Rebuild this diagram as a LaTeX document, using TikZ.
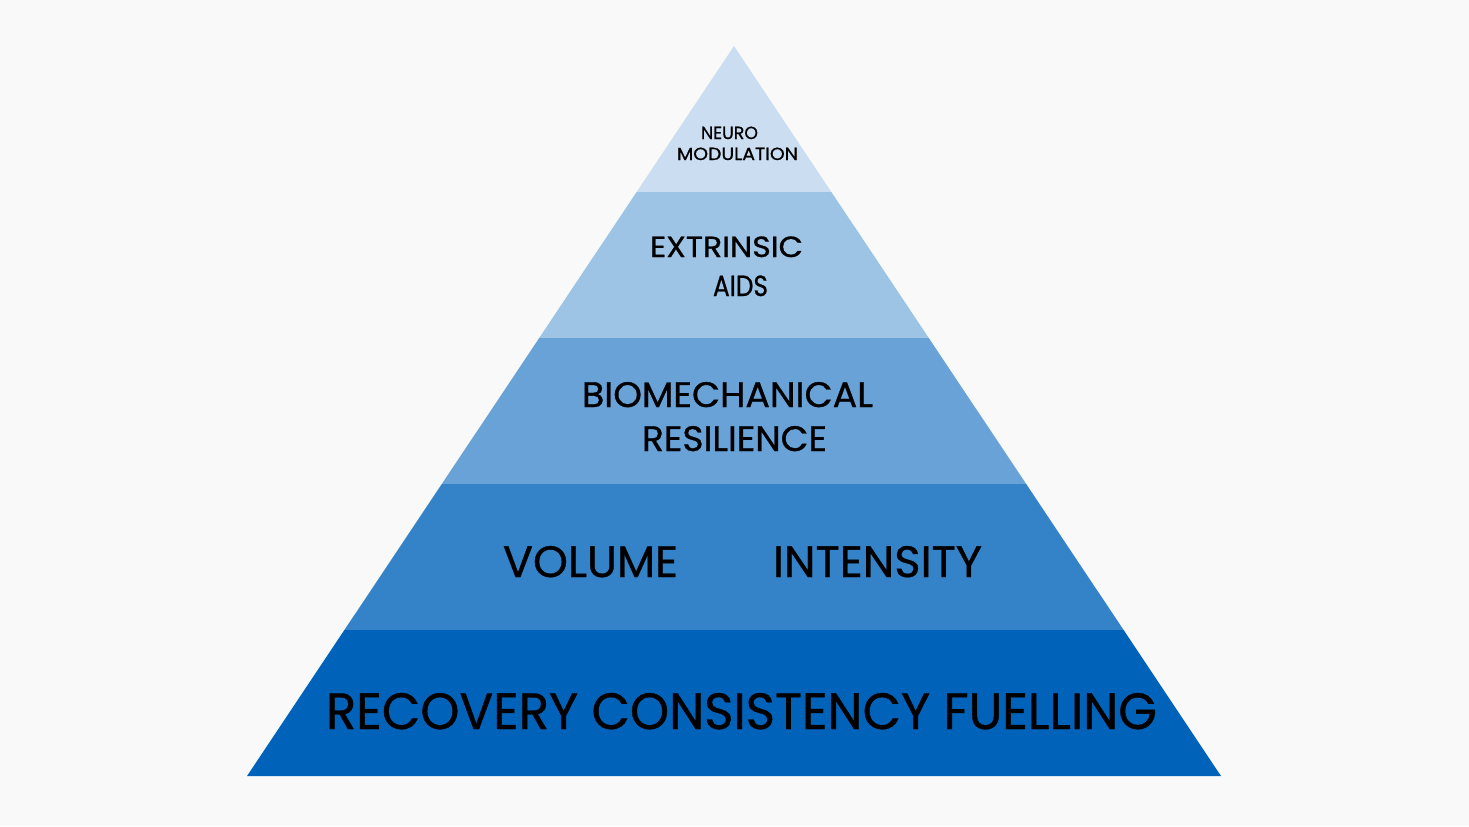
\documentclass[tikz,border=0pt]{standalone}
\usepackage{fontspec}
\setmainfont{Poppins}[FakeBold=0.8]
\usepackage{graphicx}
\definecolor{bg}{HTML}{F9F9F9}
\definecolor{lay1}{HTML}{CADDF1}
\definecolor{lay2}{HTML}{9DC3E5}
\definecolor{lay3}{HTML}{68A2D6}
\definecolor{lay4}{HTML}{3482C8}
\definecolor{lay5}{HTML}{0062B9}
\newcommand{\fitbox}[3]{\resizebox{#1pt}{#2pt}{#3}}
\tikzset{
  lbl/.style={anchor=base, inner sep=0pt, outer sep=0pt, text=black},
  layer/.style={draw=none}
}
\begin{document}
\begin{tikzpicture}[x=0.5pt, y=-0.5pt]
\useasboundingbox (0,0) rectangle (1469,826);
\fill[bg] (0,0) rectangle (1469,826);
% layers
\fill[layer, lay1] (734,46) -- (831.4,192) -- (636.6,192) -- cycle;
\fill[layer, lay2] (636.6,192) -- (831.4,192) -- (928.8,338) -- (539.2,338) -- cycle;
\fill[layer, lay3] (539.2,338) -- (928.8,338) -- (1026.2,484) -- (441.8,484) -- cycle;
\fill[layer, lay4] (441.8,484) -- (1026.2,484) -- (1123.6,630) -- (344.4,630) -- cycle;
\fill[layer, lay5] (344.4,630) -- (1123.6,630) -- (1221,776) -- (247,776) -- cycle;
% labels (widths/heights in pt = px/2)
\node[lbl] (neuro) at (729.5,139) {\fitbox{28.5}{6.2}{NEURO}};
\node[lbl] (modul) at (737.5,160) {\fitbox{60.5}{6.2}{MODULATION}};
\node[lbl] (extr) at (726.5,257) {\fitbox{76.5}{10.3}{EXTRINSIC}};
\node[lbl] (aids) at (740.5,296) {\fitbox{27.5}{10.3}{AIDS}};
\node[lbl] (bio) at (727.5,407) {\fitbox{145.5}{12.5}{BIOMECHANICAL}};
\node[lbl] (resil) at (734.5,451) {\fitbox{92.5}{12.5}{RESILIENCE}};
\node[lbl] (vol) at (590.5,577) {\fitbox{87.5}{15.5}{VOLUME}};
\node[lbl] (int) at (877.5,577) {\fitbox{104.5}{15.5}{INTENSITY}};
\node[lbl] (base) at (741.5,729) {\fitbox{415.5}{18}{RECOVERY\ CONSISTENCY\ FUELLING}};
\end{tikzpicture}
\end{document}
